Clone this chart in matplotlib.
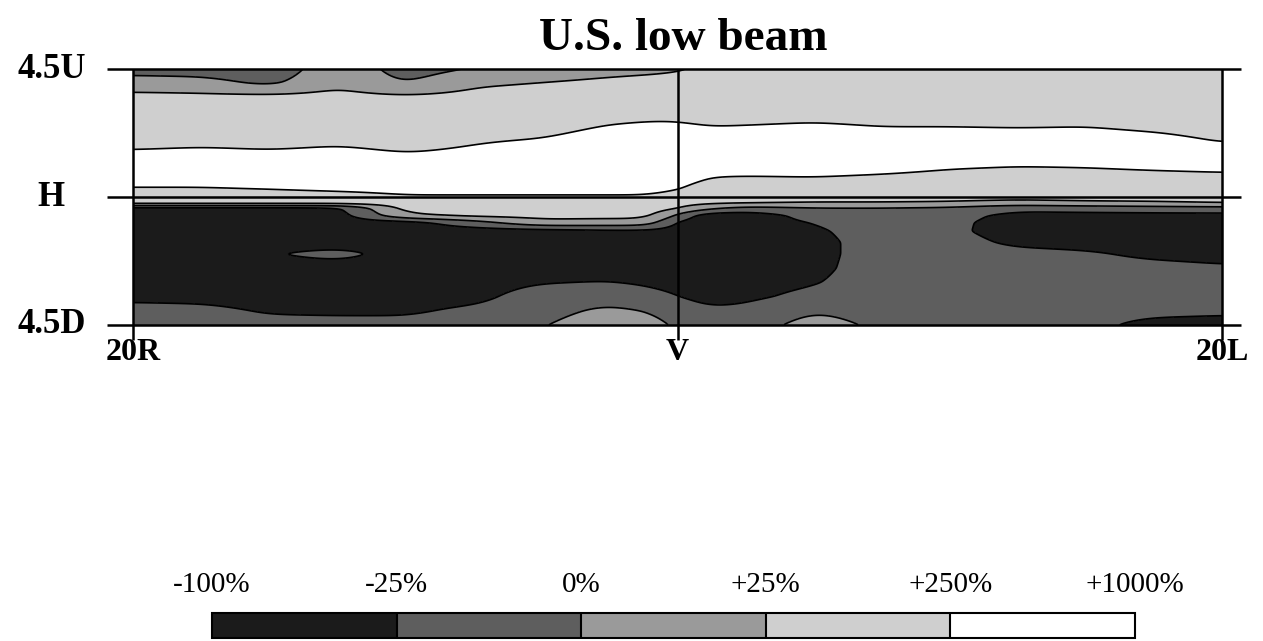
import numpy as np
import matplotlib
matplotlib.use("Agg")
import matplotlib.pyplot as plt

plt.rcParams['font.family'] = ['Liberation Serif', 'DejaVu Serif']

# ---------------- data ----------------
title = "U.S. low beam"
x_labels = ["20R", "V", "20L"]
x_label_pos = [-20, 0, 20]
y_labels = ["4.5U", "H", "4.5D"]
y_label_pos = [4.5, 0, -4.5]

level_values = [-100, -25, 0, 25, 250, 1000]          # % change at colour boundaries
level_labels = ["-100%", "-25%", "0%", "+25%", "+250%", "+1000%"]
band_colors = ["#1b1b1b", "#5e5e5e", "#9a9a9a", "#cfcfcf", "#ffffff"]

# horizontal angle (deg, negative = right side) and vertical angle (deg)
x_deg = [-20, -17.5, -15, -12.5, -10, -7.5, -5, -2.5, -1, 0, 1, 2.5, 5, 7.5, 10, 12.5, 15, 17.5, 20]
y_deg = [4.5, 4.0, 3.5, 3.0, 2.5, 2.0, 1.5, 1.0, 0.6, 0.3, 0.0, -0.2, -0.4, -0.65, -0.9,
         -1.2, -1.6, -2.0, -2.5, -3.0, -3.5, -4.0, -4.5]

# percent change of illuminance, rows from top (4.5U) to bottom (4.5D)
change_pct = [
    [-10, -12, -20, 20, -12, 2, 12, 18, 20, 22, 70, 92, 92, 92, 92, 92, 92, 92, 92],
    [12, 10, -5, 22, -1, 22, 30, 70, 92, 115, 104, 104, 104, 104, 104, 104, 104, 104, 104],
    [92, 81, 92, 92, 70, 92, 92, 115, 138, 138, 115, 115, 115, 115, 115, 115, 115, 115, 115],
    [115, 115, 115, 126, 115, 126, 126, 149, 182, 182, 160, 160, 182, 160, 160, 149, 160, 149, 138],
    [138, 138, 138, 149, 138, 160, 160, 288, 362, 362, 246, 265, 325, 246, 246, 239, 246, 216, 182],
    [160, 182, 160, 205, 160, 228, 288, 625, 625, 550, 475, 475, 512, 475, 475, 475, 475, 400, 239],
    [400, 475, 400, 475, 288, 400, 625, 625, 625, 625, 550, 588, 588, 550, 512, 475, 475, 475, 475],
    [550, 550, 550, 625, 550, 625, 625, 625, 625, 625, 475, 475, 475, 400, 265, 239, 246, 288, 325],
    [475, 475, 475, 550, 625, 625, 625, 625, 625, 550, 228, 216, 228, 205, 182, 182, 182, 194, 205],
    [239, 239, 288, 400, 475, 475, 475, 475, 475, 325, 160, 160, 160, 149, 138, 138, 138, 138, 138],
    [138, 138, 138, 160, 228, 228, 228, 228, 228, 160, 115, 115, 115, 115, 115, 115, 115, 115, 115],
    [115, 115, 115, 115, 138, 138, 138, 138, 138, 115, 70, 48, 24, 24, 22, 15, 20, 22, 36],
    [-55, -55, -55, -48, 115, 115, 126, 126, 126, 48, 5, -10, -2, -2, -5, -18, -15, -12, -10],
    [-62, -62, -62, -62, 20, 70, 92, 92, 92, -5, -70, -70, -15, -11, -15, -48, -48, -48, -48],
    [-62, -62, -62, -62, -55, -10, 18, 15, 15, -55, -62, -62, -24, -10, -18, -62, -62, -62, -62],
    [-62, -62, -62, -62, -62, -62, -55, -40, -40, -62, -62, -62, -40, -10, -19, -62, -62, -62, -62],
    [-62, -62, -62, -62, -62, -62, -62, -62, -62, -62, -62, -62, -55, -10, -15, -40, -48, -62, -62],
    [-62, -62, -32, -16, -62, -62, -62, -62, -62, -62, -62, -62, -55, -10, -12, -18, -22, -40, -48],
    [-62, -62, -62, -62, -62, -62, -55, -48, -55, -62, -62, -62, -48, -10, -10, -12, -15, -18, -22],
    [-62, -62, -62, -62, -62, -62, -29, -24, -36, -48, -62, -55, -32, -10, -10, -12, -12, -12, -15],
    [-40, -44, -55, -55, -55, -48, -12, -8, -18, -24, -48, -40, -18, -10, -10, -12, -12, -12, -12],
    [-18, -19, -32, -36, -36, -20, -8, 5, -1, -12, -22, -20, -1, -10, -10, -12, -15, -18, -20],
    [-15, -15, -18, -18, -18, -12, -2, 15, 10, -5, -15, -12, 10, -5, -8, -10, -18, -48, -55],
]

# ---------------- field preparation ----------------
band_index = np.arange(len(level_values))
pct = np.array(change_pct, dtype=float)[::-1]
yy = np.array(y_deg, dtype=float)[::-1]
xx = np.array(x_deg, dtype=float)
coarse = np.interp(pct, level_values, band_index)

# bilinear resampling onto a fine grid, then light smoothing for rounded contours
xf = np.linspace(xx.min(), xx.max(), 545)
yf = np.linspace(yy.min(), yy.max(), 451)
tmp = np.array([np.interp(xf, xx, row) for row in coarse])            # (ny, nxf)
fine = np.array([np.interp(yf, yy, tmp[:, j]) for j in range(len(xf))]).T  # (nyf, nxf)


def smooth(a, sig, axis):
    r = int(np.ceil(3 * sig))
    k = np.exp(-0.5 * (np.arange(-r, r + 1) / sig) ** 2)
    k /= k.sum()
    pad = [(0, 0), (0, 0)]
    pad[axis] = (r, r)
    ap = np.pad(a, pad, mode="edge")
    return np.apply_along_axis(lambda v: np.convolve(v, k, mode="valid"), axis, ap)


dx = xf[1] - xf[0]
dy = yf[1] - yf[0]
fine = smooth(fine, 0.55 / dx, axis=1)
fine = smooth(fine, 0.04 / dy, axis=0)

# ---------------- figure ----------------
W, H = 1263, 641
fig = plt.figure(figsize=(W / 100, H / 100), dpi=100)
ax = fig.add_axes([133 / W, 1 - 325 / H, (1222 - 133) / W, (325 - 69) / H])

cf = ax.contourf(xf, yf, fine, levels=band_index, colors=band_colors)
ax.contour(xf, yf, fine, levels=band_index[1:-1], colors="k", linewidths=1.2)

ax.set_xlim(xx.min(), xx.max())
ax.set_ylim(yy.min(), yy.max())
ax.set_axis_off()

# reference lines (frame, horizon and vertical) with outward ticks
ax.hlines(y_label_pos, -20.95, 20.7, colors="k", linewidth=1.8, clip_on=False)
ax.vlines(x_label_pos, -5.03, 4.5, colors="k", linewidth=1.8, clip_on=False)

for lab, yv in zip(y_labels, y_label_pos):
    ax.text(-23.0, yv, lab, ha="center", va="center", fontsize=25,
            fontweight="bold", clip_on=False)
for lab, xv in zip(x_labels, x_label_pos):
    ax.text(xv, -5.45, lab, ha="center", va="center", fontsize=23,
            fontweight="bold", clip_on=False)

fig.text(683 / W, 1 - 50 / H, title, ha="center", va="baseline",
         fontsize=34, fontweight="bold")

# colour key
cax = fig.add_axes([212 / W, 1 - 638 / H, (1135 - 212) / W, 25 / H])
cb = fig.colorbar(cf, cax=cax, orientation="horizontal", drawedges=True)
cb.set_ticks(band_index)
cb.set_ticklabels(level_labels)
cax.xaxis.set_ticks_position("top")
cax.tick_params(length=0, pad=11, labelsize=21)
cb.outline.set_linewidth(1.5)
cb.dividers.set_linewidth(1.5)

fig.savefig("out.png", dpi=100)
